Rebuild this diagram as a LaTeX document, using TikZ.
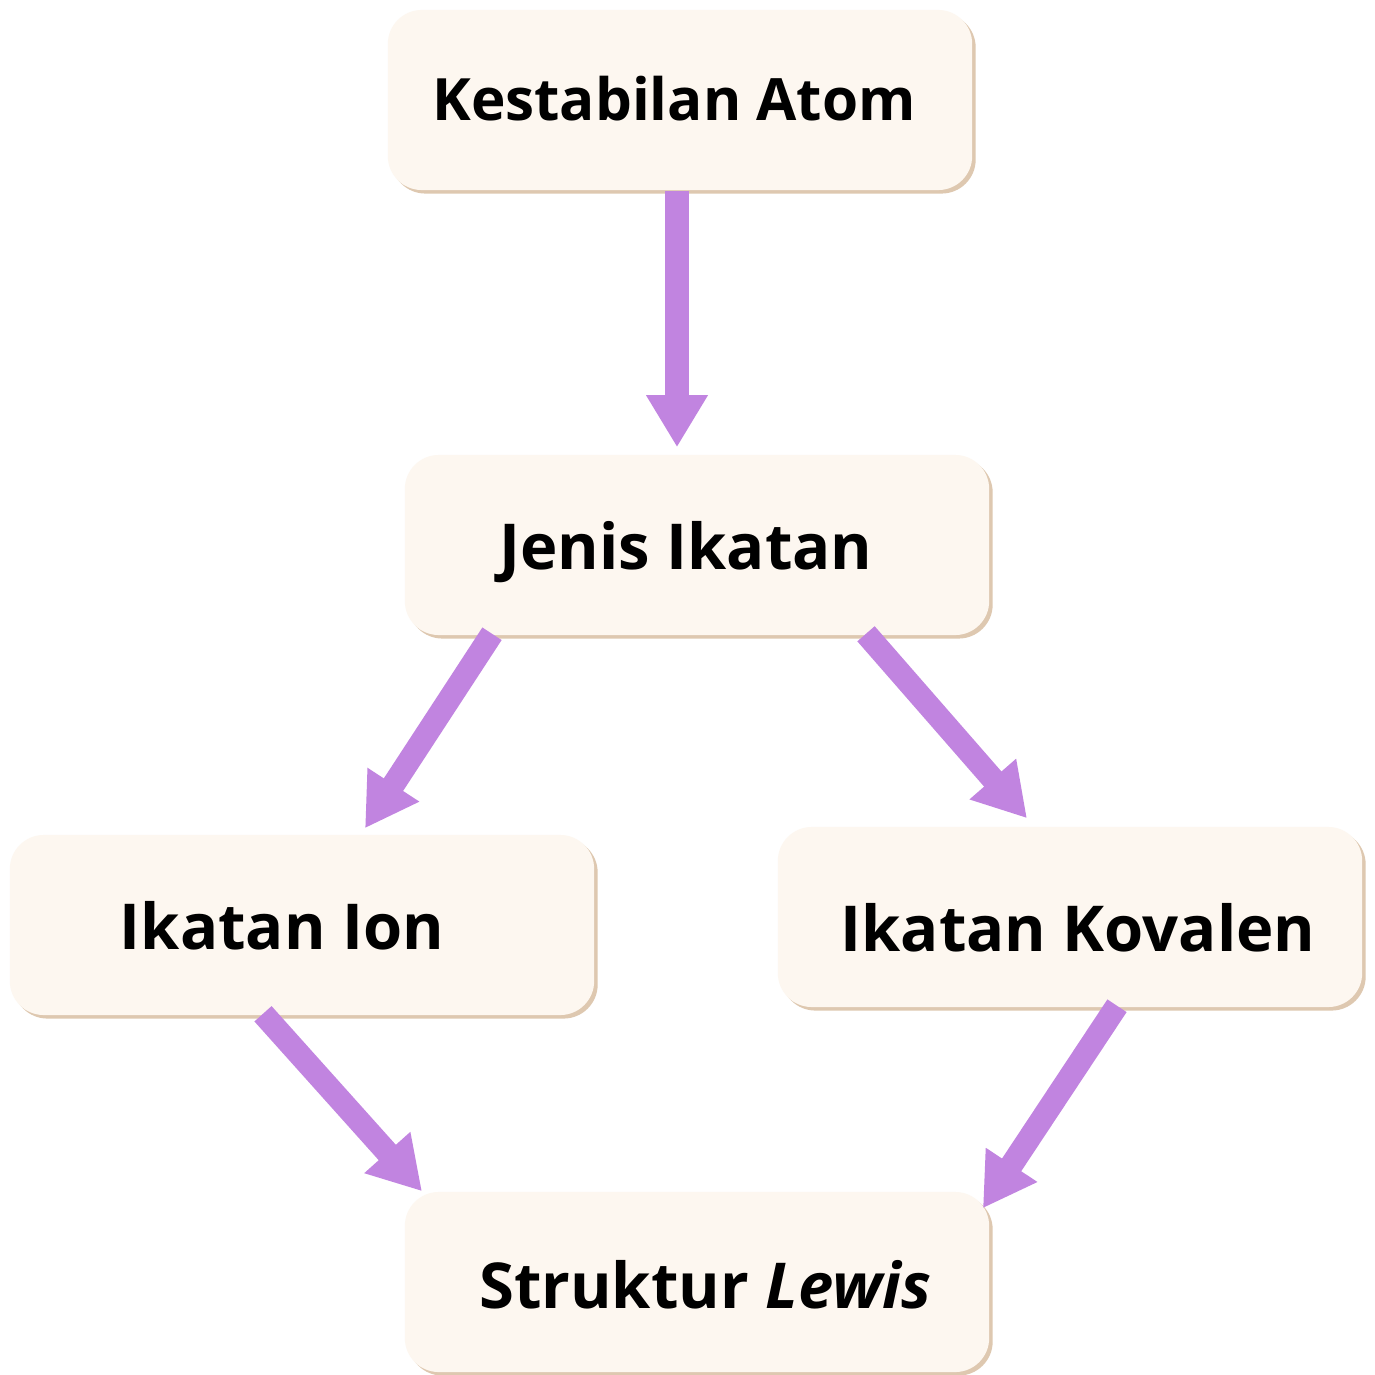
\documentclass[tikz,border=0pt]{standalone}
\usepackage{fontspec}
\setmainfont{Open Sans}
\usetikzlibrary{arrows.meta,calc,shadows}
\definecolor{cream}{RGB}{253,247,240}
\definecolor{shade}{RGB}{222,200,176}
\definecolor{arrowc}{RGB}{193,132,224}
\newcommand{\boxtext}[3]{\hspace*{#1}\raisebox{#2}{#3}}
\begin{document}
\begin{tikzpicture}[x=0.01cm,y=-0.01cm,
  box/.style={rectangle, rounded corners=0.34cm, fill=cream, minimum width=5.84cm, minimum height=1.80cm,
    inner sep=0pt, text height=0pt, text depth=0pt, font=\fontsize{18}{21}\selectfont\bfseries,
    drop shadow={shadow xshift=0.035cm, shadow yshift=-0.035cm, fill=shade, opacity=1}},
  flow/.style={draw=arrowc, line width=0.23cm,
    -{Triangle[width=0.58cm,length=0.52cm]}}]
\useasboundingbox (0,0) rectangle (1375,1375);
\fill[white] (0,0) rectangle (1375,1375);
\node[box, font=\fontsize{16.6}{20}\selectfont\bfseries] (kest) at (680,100) {\boxtext{-3.4pt}{-5.7pt}{Kestabilan Atom}};
\node[box] (jenis) at (697,545) {\boxtext{-6.3pt}{-7.1pt}{Jenis Ikatan}};
\node[box] (ion) at (302,925) {\boxtext{-11.4pt}{-7.1pt}{Ikatan Ion}};
\node[box] (kov) at (1070,917) {\boxtext{4.6pt}{-9.7pt}{Ikatan Kovalen}};
\node[box] (lewis) at (697,1282) {\boxtext{4.6pt}{-7.4pt}{Struktur \textit{Lewis}}};
\draw[flow] ($(kest.south)+(-3,0)$) -- ($(jenis.north)+(-20,-7)$);
\draw[flow] ($(jenis.south)+(-205,-2)$) -- ($(ion.north)+(63,-6)$);
\draw[flow] ($(jenis.south)+(169,-2)$) -- ($(kov.north)+(-43,-8)$);
\draw[flow] ($(ion.south)+(-39,-2)$) -- ($(lewis.north)+(-275,0)$);
\draw[flow] ($(kov.south)+(47,-2)$) -- ($(lewis.north east)+(-7,17)$);
\end{tikzpicture}
\end{document}
